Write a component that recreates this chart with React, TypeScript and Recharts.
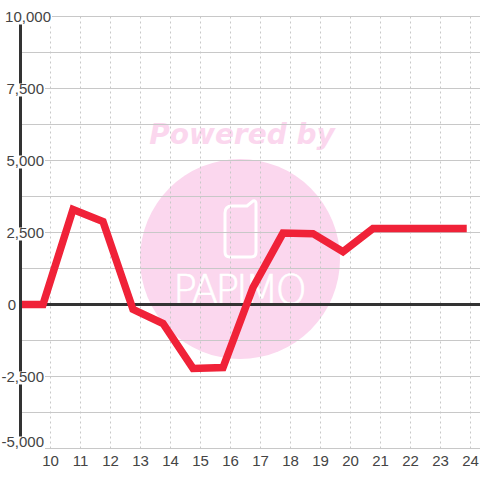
import { LineChart, Line, XAxis, YAxis, CartesianGrid, ReferenceLine } from "recharts";

const hours = [9, 9.75, 10.75, 11.75, 12.75, 13.75, 14.75, 15.75, 16.75, 17.75, 18.75, 19.75, 20.75, 21.75, 22.75, 23.75];
const values = [0, 0, 3300, 2880, -170, -660, -2220, -2190, 590, 2480, 2460, 1830, 2640, 2640, 2640, 2640];
const xTicks = [10, 11, 12, 13, 14, 15, 16, 17, 18, 19, 20, 21, 22, 23, 24];
const yTicks = [-5000, -3750, -2500, -1250, 0, 1250, 2500, 3750, 5000, 6250, 7500, 8750, 10000];
const yLabels = [-5000, -2500, 0, 2500, 5000, 7500, 10000];

const data = hours.map((hour, i) => ({ hour, value: values[i] }));

const FONT = '"Liberation Sans", Arial, sans-serif';
const LINE_COLOR = "#f02238";
const GRID_COLOR = "#c8c8c8";
const AXIS_COLOR = "#333333";
const PINK = "#fbd7ee";

function YTick({ y, payload }: any) {
  if (!yLabels.includes(payload.value)) return null;
  const label = payload.value.toLocaleString("en-US");
  const right = payload.value === 10000 ? 51 : payload.value === 0 ? 16 : 44;
  // the bottom label sits higher than its gridline
  const cy = payload.value === -5000 ? y - 7 : y;
  return (
    <g>
      <rect x={2} y={cy - 5} width={right - 1} height={13} fill="#ffffff" />
      <text x={right} y={cy + 5} textAnchor="end" fontSize={15} fontFamily={FONT} fill="#444444">
        {label}
      </text>
    </g>
  );
}

function Watermark() {
  return (
    <svg width={480} height={480} style={{ position: "absolute", left: 0, top: 0 }}>
      <text x={242} y={144} textAnchor="middle" fontSize={28} fontWeight="bold" fontStyle="italic" fontFamily='"DejaVu Sans", sans-serif' fill={PINK}>
        Powered by
      </text>
      <circle cx={240} cy={259} r={100} fill={PINK} />
      <path
        d="M232 206 L247 206 L253 201 Q256 200 256 204 L256 252 Q256 257 251 257 L230 257 Q225 257 225 252 L225 213 Q225 206 232 206 Z"
        fill="none"
        stroke="#ffffff"
        strokeWidth={3}
      />
      <text x={173} y={304} fontSize={40} fontWeight={200} fontFamily='"DejaVu Sans", sans-serif' textLength={134} stroke="#ffffff" strokeWidth={0.6} fill="#ffffff">
        PAPIMO
      </text>
    </svg>
  );
}

export default function App() {
  return (
    <div style={{ position: "absolute", left: 0, top: 0, width: 480, height: 480, background: "#ffffff" }}>
      <Watermark />
      <div style={{ position: "absolute", left: 0, top: 0 }}>
        <LineChart width={480} height={480} data={data} margin={{ top: 16.5, right: 0, bottom: 0, left: 0 }}>
          <CartesianGrid vertical={false} horizontalValues={yTicks} stroke={GRID_COLOR} strokeWidth={1} />
          <CartesianGrid horizontal={false} verticalValues={xTicks} stroke={GRID_COLOR} strokeWidth={1} strokeDasharray="2 3" />
          <XAxis
            dataKey="hour"
            type="number"
            domain={[9, 24.317]}
            ticks={xTicks}
            interval={0}
            allowDataOverflow
            axisLine={false}
            tickLine={false}
            height={31.5}
            tick={{ fontSize: 15, fill: "#444444", fontFamily: FONT }}
            tickMargin={1}
          />
          <YAxis
            type="number"
            domain={[-5000, 10000]}
            ticks={yTicks}
            interval={0}
            width={20.5}
            axisLine={{ stroke: AXIS_COLOR, strokeWidth: 3 }}
            tickLine={false}
            tick={<YTick />}
          />
          <ReferenceLine y={0} stroke={AXIS_COLOR} strokeWidth={3} />
          <Line
            dataKey="value"
            type="linear"
            stroke={LINE_COLOR}
            strokeWidth={7.5}
            strokeLinejoin="miter"
            strokeLinecap="square"
            dot={false}
            isAnimationActive={false}
          />
        </LineChart>
      </div>
    </div>
  );
}
